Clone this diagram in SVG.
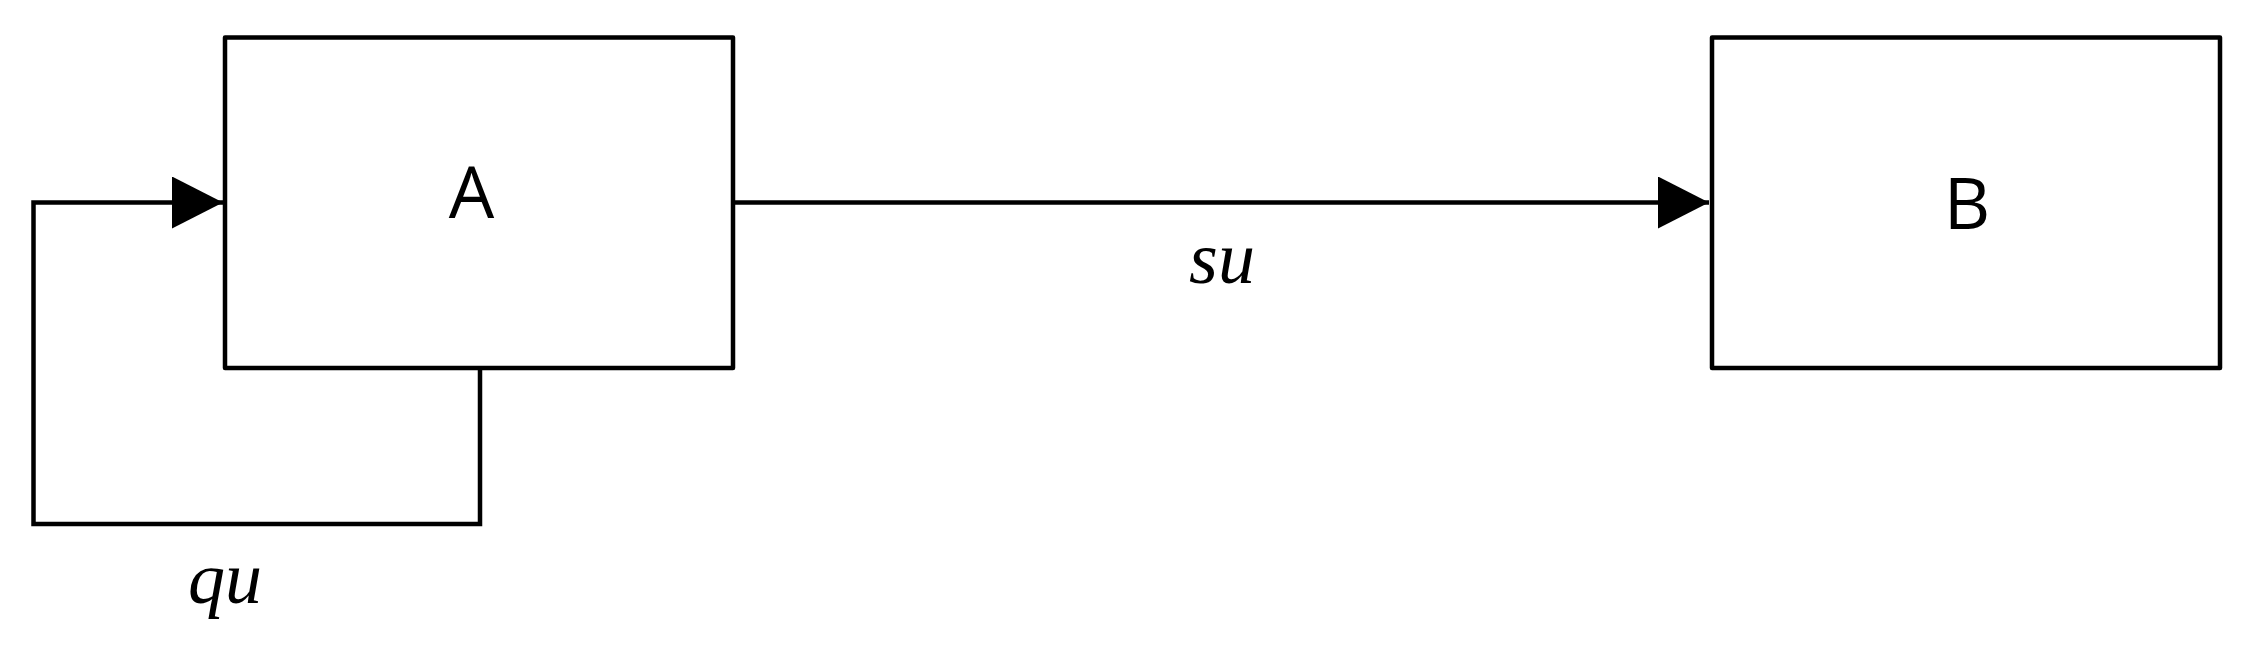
<svg xmlns="http://www.w3.org/2000/svg" width="2256" height="656" viewBox="0 0 2256 656">
<style>
.box{fill:#fff;stroke:#000;stroke-width:4.5;stroke-linejoin:round}
.edge{fill:none;stroke:#000;stroke-width:4.5;stroke-linejoin:miter}
.lbl{font-family:"Open Sans","Noto Sans",sans-serif;font-size:72px;fill:#000}
.math{font-family:"Liberation Serif",serif;font-style:italic;font-size:74px;fill:#000}
</style>
<defs>
<marker id="arrow" markerUnits="userSpaceOnUse" markerWidth="52" markerHeight="54" refX="51" refY="26" orient="auto">
<path d="M0,0 L51,26 L0,52 Z" fill="#000"/>
</marker>
</defs>
<rect width="2256" height="656" fill="#fff"/>
<g id="A">
<rect class="box" x="225" y="37.5" width="508" height="330.5"/>
<text class="lbl" x="471.5" y="218" text-anchor="middle">A</text>
</g>
<g id="B">
<rect class="box" x="1712" y="37.5" width="508" height="330.5"/>
<text class="lbl" x="1967" y="229" text-anchor="middle">B</text>
</g>
<g id="connectors">
<path class="edge" d="M733,202.5 L1709,202.5" marker-end="url(#arrow)"/>
<text class="math" x="1222" y="283" text-anchor="middle">su</text>
<path class="edge" d="M480,368 L480,524 L33.5,524 L33.5,202.5 L223,202.5" marker-end="url(#arrow)"/>
<text class="math" x="225" y="603" text-anchor="middle">qu</text>
</g>
</svg>
